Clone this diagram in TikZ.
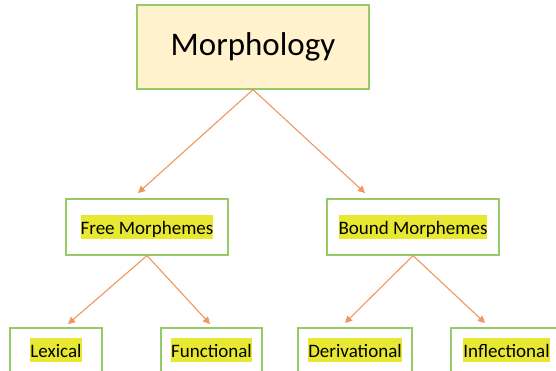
\documentclass[tikz,border=0pt]{standalone}
\usepackage{fontspec}
\setmainfont{Carlito}
\usetikzlibrary{arrows.meta}
\definecolor{hl}{RGB}{232,232,50}
\definecolor{boxgreen}{RGB}{150,202,105}
\definecolor{topfill}{RGB}{255,242,204}
\definecolor{arrorange}{RGB}{242,150,95}
\newcommand\hlt[1]{{\setlength\fboxsep{0pt}\colorbox{hl}{\rule[-5pt]{0pt}{24pt}#1}}}
\begin{document}
\begin{tikzpicture}[x=1pt,y=-1pt,
  box/.style={draw=boxgreen, line width=1.2pt, fill=white, inner sep=0pt,
    minimum height=56pt, font=\fontsize{19}{23}\selectfont},
  leafbox/.style={box, minimum height=44pt},
  topbox/.style={draw=boxgreen, line width=1.2pt, fill=topfill, inner sep=0pt,
    minimum width=232pt, minimum height=84pt, font=\fontsize{33}{40}\selectfont},
  arr/.style={draw=arrorange, line width=1.1pt,
    -{Triangle[length=7pt,width=7pt,fill=arrorange]}}]
\clip (0,0) rectangle (556,370);
\fill[white] (0,0) rectangle (556,370);
\node[topbox] (morph) at (253,47) {Morphology};
\node[box, minimum width=162pt] (free) at (147,227) {\hlt{Free Morphemes}};
\node[box, minimum width=172pt] (bound) at (413,227) {\hlt{Bound Morphemes}};
\node[leafbox, minimum width=92pt] (lex) at (56,350) {\hlt{Lexical}};
\node[leafbox, minimum width=101pt] (func) at (211.5,350) {\hlt{Functional}};
\node[leafbox, minimum width=114pt] (deriv) at (355,350) {\hlt{Derivational}};
\node[leafbox, minimum width=111pt] (infl) at (506.5,350) {\hlt{Inflectional}};
\coordinate (e1) at (138,193);
\coordinate (e2) at (365,193);
\coordinate (e3) at (68,324);
\coordinate (e4) at (210,324);
\coordinate (e5) at (345,323);
\coordinate (e6) at (485,323);
\draw[arr] (morph.south) -- (e1);
\draw[arr] (morph.south) -- (e2);
\draw[arr] (free.south) -- (e3);
\draw[arr] (free.south) -- (e4);
\draw[arr] (bound.south) -- (e5);
\draw[arr] (bound.south) -- (e6);
\end{tikzpicture}
\end{document}
